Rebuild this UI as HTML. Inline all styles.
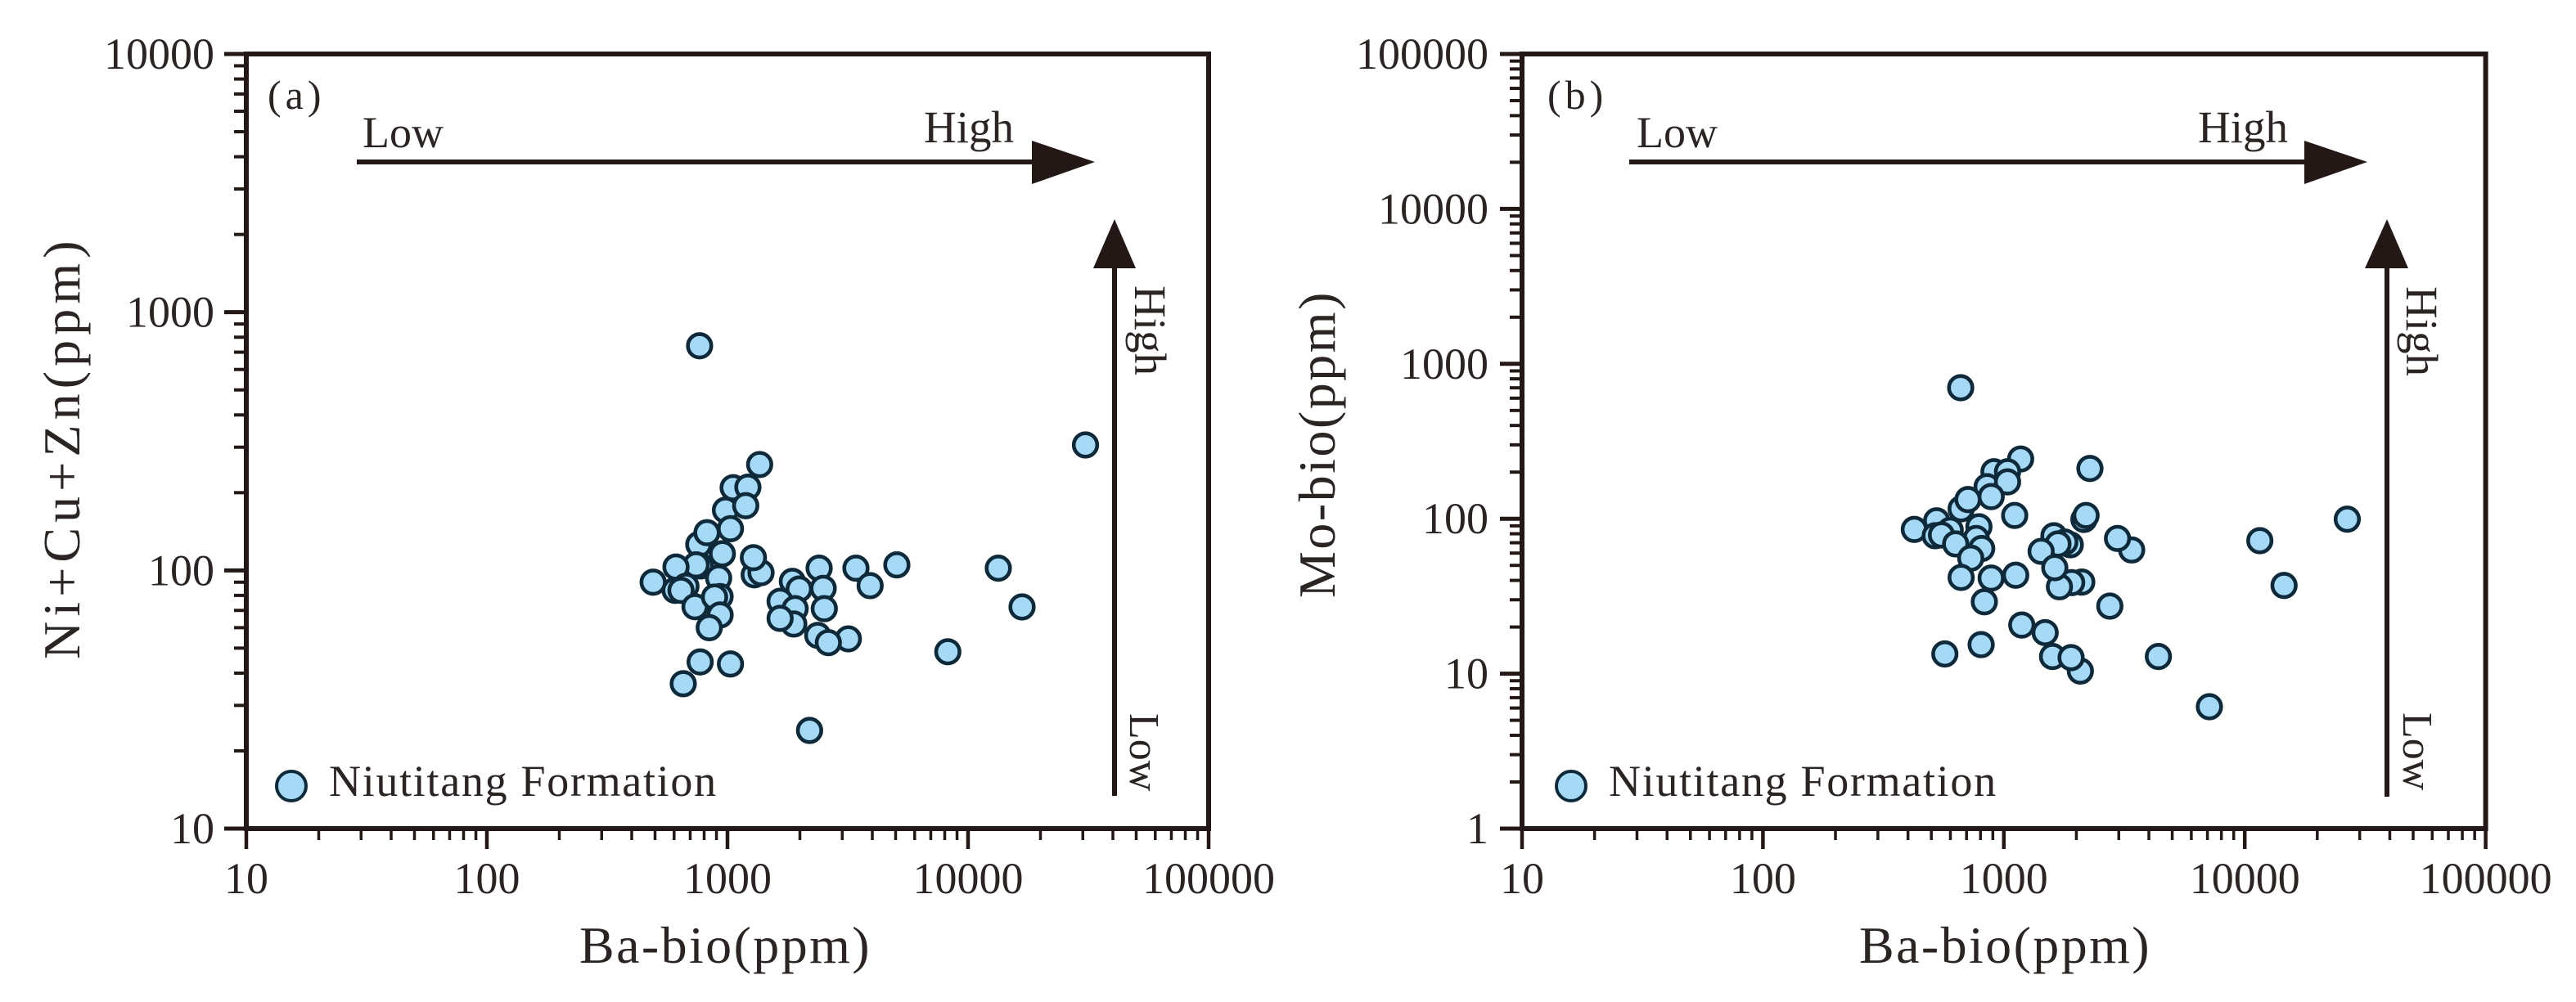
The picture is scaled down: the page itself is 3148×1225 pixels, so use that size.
<!DOCTYPE html>
<html lang="en">
<head>
<meta charset="utf-8">
<title>Ba-bio scatter plots, Niutitang Formation</title>
<style>
html,body{margin:0;padding:0;background:#fff;}
svg{display:block;}
text{font-family:"Liberation Serif",serif;fill:#2a2422;}
</style>
</head>
<body>
<svg id="chart" xmlns="http://www.w3.org/2000/svg" width="3148" height="1225" viewBox="0 0 3148 1225">
  <rect x="0" y="0" width="3148" height="1225" fill="#ffffff"/>

  <g id="panel-a">
    <g id="axes-a"></g>
    <text x="327" y="133" font-size="50" letter-spacing="5">(a)</text>
    <line x1="436" y1="198" x2="1270" y2="198" stroke="#231815" stroke-width="6"/>
    <polygon points="1261,172 1338,198 1261,225" fill="#231815"/>
    <text x="443" y="180" font-size="54">Low</text>
    <text x="1129" y="174" font-size="55">High</text>
    <line x1="1362" y1="973" x2="1362" y2="320" stroke="#231815" stroke-width="6"/>
    <polygon points="1336,328 1362,268 1388,328" fill="#231815"/>
    <text transform="translate(1387,349) rotate(90)" font-size="55">High</text>
    <text transform="translate(1381,872) rotate(90)" font-size="52">Low</text>
    <g id="points-a"></g>
    <circle cx="356" cy="961" r="18" fill="#a6d9f5" stroke="#0e2a3a" stroke-width="4"/>
    <text x="402" y="973" font-size="54" letter-spacing="1.7">Niutitang Formation</text>
    <text x="708" y="1177" font-size="64" letter-spacing="2.4">Ba-bio(ppm)</text>
    <text transform="translate(97,806) rotate(-90)" font-size="64" letter-spacing="6.1">Ni+Cu+Zn(ppm)</text>
  </g>

  <g id="panel-b">
    <g id="axes-b"></g>
    <text x="1891" y="133" font-size="50" letter-spacing="5">(b)</text>
    <line x1="1991" y1="198" x2="2825" y2="198" stroke="#231815" stroke-width="6"/>
    <polygon points="2816,172 2893,198 2816,225" fill="#231815"/>
    <text x="2000" y="180" font-size="54">Low</text>
    <text x="2686" y="174" font-size="55">High</text>
    <line x1="2917" y1="974" x2="2917" y2="320" stroke="#231815" stroke-width="6"/>
    <polygon points="2890,328 2917,268 2943,328" fill="#231815"/>
    <text transform="translate(2941,350) rotate(90)" font-size="55">High</text>
    <text transform="translate(2937,871) rotate(90)" font-size="52">Low</text>
    <g id="points-b"></g>
    <circle cx="1920" cy="961" r="18" fill="#a6d9f5" stroke="#0e2a3a" stroke-width="4"/>
    <text x="1966" y="973" font-size="54" letter-spacing="1.7">Niutitang Formation</text>
    <text x="2272" y="1177" font-size="64" letter-spacing="2.4">Ba-bio(ppm)</text>
    <text transform="translate(1631,731) rotate(-90)" font-size="64" letter-spacing="2.5">Mo-bio(ppm)</text>
  </g>
</svg>

<script>
var xTickLabels = ["10", "100", "1000", "10000", "100000"];
var yTickLabelsA = ["10", "100", "1000", "10000"];
var yTickLabelsB = ["1", "10", "100", "1000", "10000", "100000"];

var baBioA = [1361, 1056, 1216, 981, 1191, 760, 822, 1029, 772, 741, 919, 952, 611, 491, 672, 606, 641, 733, 932, 884, 932, 840, 770, 1029, 655, 1292, 1379, 1282, 1861, 2404, 1987, 2500, 1655, 1911, 2526, 1886, 1655, 2373, 3180, 2626, 3420, 3917, 5059, 2194, 8241, 13360, 16770, 766, 30770];
var niCuZnA = [257, 209, 210, 171, 178, 126, 140, 145, 104, 105, 93.4, 116, 103, 90, 86.8, 83.7, 83.7, 72.3, 79.2, 78.8, 67.2, 60, 44.2, 43.4, 36.4, 96.1, 98, 112, 90.7, 102, 84.7, 85.2, 75.9, 71.1, 71.1, 62, 65.2, 56, 54.3, 52.5, 102, 87.3, 105, 24, 48.4, 102, 72.2, 741, 306];

var baBioB = [1174, 910, 1036, 852, 1036, 665, 710, 886, 1109, 526, 425, 788, 599, 519, 551, 768, 631, 809, 729, 665, 886, 1120, 830, 1187, 1484, 1593, 2078, 1902, 805, 569, 4380, 7133, 2277, 2150, 2194, 1614, 1887, 1791, 1678, 1428, 2106, 1912, 1701, 1627, 3393, 2963, 2754, 26640, 11550, 14560, 662];
var moBioB = [243, 201, 201, 161, 173, 116, 133, 139, 105, 97, 85.3, 88.8, 84.3, 77.7, 78.6, 74.6, 68.8, 64.2, 55.7, 41.8, 41.4, 43.2, 29.1, 20.6, 18.4, 12.9, 10.4, 12.7, 15.4, 13.4, 12.9, 6.12, 211, 99, 105, 77.7, 67.9, 70.7, 68.8, 61.6, 39, 38.7, 36.4, 48.3, 62.9, 74.6, 27.3, 99.3, 72.2, 37.1, 701];

var SVG_NS = "http://www.w3.org/2000/svg";
var AXIS_COLOR = "#231815";

function make(tag, attrs, parent) {
  var el = document.createElementNS(SVG_NS, tag);
  Object.keys(attrs).forEach(function (k) { el.setAttribute(k, attrs[k]); });
  parent.appendChild(el);
  return el;
}

function logAxis(minLabel, maxLabel, startPx, endPx) {
  var lo = Math.log10(Number(minLabel));
  var hi = Math.log10(Number(maxLabel));
  return function (v) {
    return startPx + (Math.log10(v) - lo) / (hi - lo) * (endPx - startPx);
  };
}

function drawPanel(suffix, left, right, top, bottom, labelRight, yLabels, xs, ys) {
  var axes = document.getElementById("axes-" + suffix);
  var points = document.getElementById("points-" + suffix);
  var xScale = logAxis(xTickLabels[0], xTickLabels[xTickLabels.length - 1], left, right);
  var yScale = logAxis(yLabels[0], yLabels[yLabels.length - 1], bottom, top);

  xTickLabels.forEach(function (label, i) {
    var base = Number(label);
    var px = xScale(base);
    var tick = make("line", { x1: px, y1: bottom, x2: px, y2: bottom + 25, stroke: AXIS_COLOR, "stroke-width": 4.5 }, axes);
    
    
    var text = make("text", { x: px, y: 1092, "font-size": 54, "text-anchor": "middle" }, axes);
    text.textContent = label;
    
    
    if (i < xTickLabels.length - 1) {
      for (var m = 2; m <= 9; m++) {
        var mx = xScale(base * m);
        var minor = make("line", { x1: mx, y1: bottom, x2: mx, y2: bottom + 14, stroke: AXIS_COLOR, "stroke-width": 3.5 }, axes);
        
        
      }
    }
  });

  yLabels.forEach(function (label, i) {
    var base = Number(label);
    var py = yScale(base);
    var tick = make("line", { x1: left - 27, y1: py, x2: left, y2: py, stroke: AXIS_COLOR, "stroke-width": 5 }, axes);
    
    
    var text = make("text", { x: labelRight, y: py + 18, "font-size": 54, "text-anchor": "end" }, axes);
    text.textContent = label;
    
    
    if (i < yLabels.length - 1) {
      for (var m = 2; m <= 9; m++) {
        var my = yScale(base * m);
        var minor = make("line", { x1: left - 15, y1: my, x2: left, y2: my, stroke: AXIS_COLOR, "stroke-width": 4 }, axes);
        
        
      }
    }
  });

  var frame = make("rect", { x: left, y: top, width: right - left, height: bottom - top, fill: "none", stroke: AXIS_COLOR, "stroke-width": 6 }, axes);
  
  

  xs.forEach(function (xv, i) {
    var dot = make("circle", { cx: xScale(xv), cy: yScale(ys[i]), r: 14.3, fill: "#a6d9f5", stroke: "#0e2a3a", "stroke-width": 4.6 }, points);
    
    
  });
}

drawPanel("a", 301, 1477, 66, 1013, 262, yTickLabelsA, baBioA, niCuZnA);
drawPanel("b", 1860, 3037.6, 66, 1013, 1819, yTickLabelsB, baBioB, moBioB);
</script>
</body>
</html>
